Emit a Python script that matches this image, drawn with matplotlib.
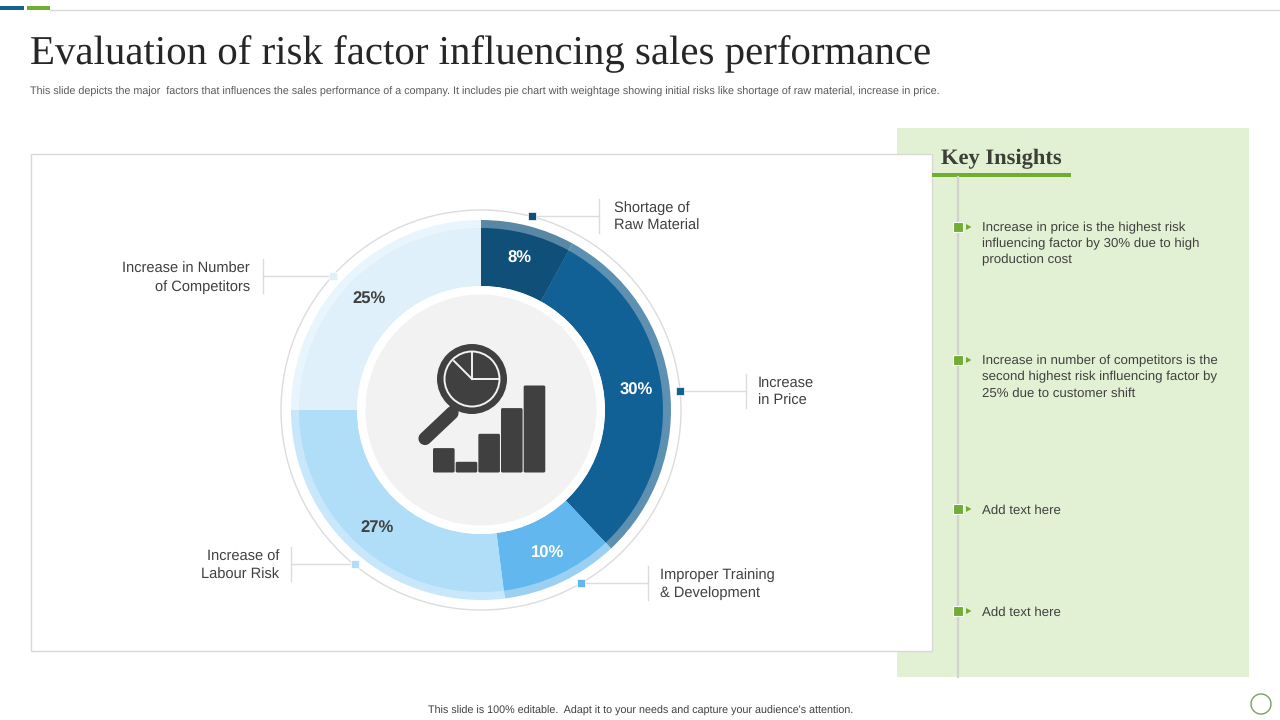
import matplotlib
matplotlib.use("Agg")
import matplotlib.pyplot as plt
from matplotlib.patches import Rectangle, Circle, FancyBboxPatch, Polygon

plt.rcParams['font.family'] = ['Liberation Sans', 'DejaVu Sans']
plt.rcParams['text.hinting'] = 'no_hinting'

# pie data, clockwise from 12 o'clock
categories = ["Shortage of\nRaw Material", "Increase\nin Price", "Improper Training\n& Development",
              "Increase of\nLabour Risk", "Increase in Number\nof Competitors"]
shares = [8, 30, 10, 27, 25]
slice_colors = ["#0f4f78", "#126196", "#62b7ee", "#b0ddf7", "#dff0fb"]
strip_colors = ["#5a87a4", "#5e90b2", "#9bd0f3", "#c8e7fa", "#e9f5fc"]
pct_colors = ["white", "white", "white", "#404040", "#404040"]

insights = ["Increase in price is the highest risk\ninfluencing factor by 30% due to high\nproduction cost",
            "Increase in number of competitors is the\nsecond highest risk influencing factor by\n25% due to customer shift",
            "Add text here",
            "Add text here"]
icon_bars = [24.4, 10.7, 38.7, 64.4, 87]

title = "Evaluation of risk factor influencing sales performance"
subtitle = ("This slide depicts the major  factors that influences the sales performance of a company. It includes "
            "pie chart with weightage showing initial risks like shortage of raw material, increase in price.")
footer = "This slide is 100% editable.  Adapt it to your needs and capture your audience's attention."

GREEN = "#70ad33"
BLUE = "#14608f"
DARK = "#404040"
LEAD = "#dcdcdc"
CX, CY = 481, 410

fig = plt.figure(figsize=(12.8, 7.2), dpi=100)
ax = fig.add_axes([0, 0, 1, 1])


def rect(x0, y0, x1, y1, **kw):
    ax.add_patch(Rectangle((x0, y0), x1 - x0, y1 - y0, **kw))


# header
rect(0, 6, 24, 10, fc=BLUE, ec="none")
rect(27, 6, 50, 10, fc=GREEN, ec="none")
ax.plot([50, 1280], [9.5, 9.5], color="#d9d9d9", lw=1)
ax.text(30, 54.5, title, family="Liberation Serif", fontsize=29.4, color="#262626", va="center", ha="left")
ax.text(30, 91.5, subtitle, fontsize=7.74, color="#595959", va="center", ha="left")
ax.text(640.5, 710.5, footer, fontsize=7.72, color="#404040", va="center", ha="center")

# panels
rect(897, 128, 1249, 677, fc="#e2f0d3", ec="none", zorder=1)
rect(31, 154, 931.5, 650.5, fc="white", ec="#d9d9d9", lw=1, zorder=2)
ax.text(941, 158.5, "Key Insights", family="Liberation Serif", weight="bold", fontsize=16.2,
        color="#3b3f38", va="center", ha="left", zorder=3)
rect(932, 173, 1071, 177, fc=GREEN, ec="none", zorder=3)
ax.plot([958, 958], [177, 677], color="#d2d4cc", lw=1.6, zorder=3)

# insights list
bullet_y = [227, 360, 509, 611]
for y, txt in zip(bullet_y, insights):
    ax.add_patch(Rectangle((953, y - 5), 10, 10, fc=GREEN, ec="white", lw=0.8, zorder=4))
    ax.add_patch(Polygon([(966, y - 3), (971.5, y), (966, y + 3)], fc=GREEN, ec="none", zorder=4))
    ax.text(982, y - 5, txt, fontsize=9.5, color="#404040", va="top", ha="left",
            linespacing=1.42, zorder=4)

# donut, y axis is inverted so counterclock here turns clockwise on screen
ax.add_patch(Circle((CX, CY), 200, fc="white", ec="#dcdcdc", lw=1, zorder=3))
ax.pie(shares, colors=strip_colors, radius=190, center=(CX, CY), startangle=-90, counterclock=True,
       frame=True, wedgeprops=dict(width=66, lw=0, zorder=4))
ax.pie(shares, colors=slice_colors, radius=182, center=(CX, CY), startangle=-90, counterclock=True,
       frame=True, wedgeprops=dict(width=58, lw=0, zorder=5))
ax.add_patch(Circle((CX, CY), 124, fc="white", ec="none", zorder=6))
ax.add_patch(Circle((CX, CY), 115.5, fc="#f2f2f2", ec="none", zorder=7))

pct_xy = [(519, 258.5), (636, 390.5), (548, 553.5), (377, 528.5), (369, 299.5)]
for (x, y), val, col in zip(pct_xy, shares, pct_colors):
    ax.text(x, y, f"{val}%", fontsize=12, weight="bold", color=col, va="center", ha="center", zorder=8)

# leader lines and labels
lead_y = [216, 391, 583, 564, 276]
dot_x = [532, 680, 581, 355, 333]
bar_x = [599, 746, 648, 291, 263]
label_x = [614, 758, 660, 279, 250]
label_y = [217, 392, 584, 566, 278]
for i, name in enumerate(categories):
    ax.plot([dot_x[i], bar_x[i]], [lead_y[i], lead_y[i]], color=LEAD, lw=1, zorder=3.5)
    ax.plot([bar_x[i], bar_x[i]], [lead_y[i] - 17, lead_y[i] + 17], color=LEAD, lw=1, zorder=3.5)
    ax.add_patch(Rectangle((dot_x[i] - 4, lead_y[i] - 4), 8, 8, fc=slice_colors[i], ec="white", lw=0.5, zorder=8))
    ax.text(label_x[i], label_y[i], name, fontsize=10.5, color="#404040", va="center",
            ha="left" if i < 3 else "right", linespacing=1.4, zorder=8,
            multialignment="left" if i < 3 else "right")

# centre icon
for i, h in enumerate(icon_bars):
    ax.add_patch(FancyBboxPatch((433.8 + i * 22.67, 472.5 - h + 0.8), 20, h - 1.6,
                                boxstyle="round,pad=0.8,rounding_size=1.5", fc=DARK, ec="none", zorder=9))
ax.plot([452, 425], [413, 438.5], color=DARK, lw=9.5, solid_capstyle="round", zorder=9)
ax.plot([458, 449], [405, 414], color=DARK, lw=7, solid_capstyle="butt", zorder=9)
ax.add_patch(Circle((472, 379), 35, fc=DARK, ec="none", zorder=9))
ax.add_patch(Circle((472, 379), 27.5, fc=DARK, ec="#f2f2f2", lw=1.4, zorder=10))
ax.plot([472, 472], [352, 379], color="#f2f2f2", lw=1.4, zorder=11)
ax.plot([499, 472], [379, 379], color="#f2f2f2", lw=1.4, zorder=11)
ax.plot([472, 454], [379, 361], color="#f2f2f2", lw=1.4, zorder=11)

# corner circle
ax.add_patch(Circle((1261, 704), 10, fc="white", ec="#7d9f62", lw=1, zorder=3))

ax.set_xlim(0, 1280)
ax.set_ylim(720, 0)
ax.set_aspect("auto")
ax.axis("off")

fig.savefig("out.png", dpi=100)
